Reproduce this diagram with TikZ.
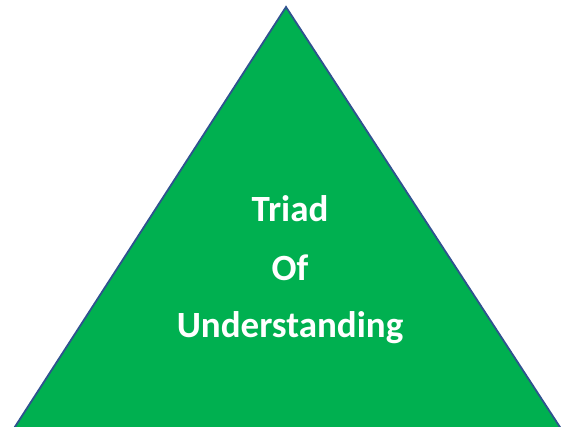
\documentclass[tikz,border=0pt]{standalone}
\usepackage{fontspec}
\setmainfont{Carlito}
\usepackage{tikz}
\definecolor{triadgreen}{HTML}{00B050}
\definecolor{triadline}{HTML}{2F528F}
\tikzset{
  triadtext/.style={text=white, font=\fontsize{37}{44}\selectfont\bfseries, anchor=base, inner sep=0pt}
}

\begin{document}
\begin{tikzpicture}[x=1pt,y=-1pt]
    \useasboundingbox (0,0) rectangle (563,427);  %Rahmen
    \clip (0,0) rectangle (563,427);
    \coordinate (top) at (286,7);
    \coordinate (left) at (-11,467);
    \coordinate (right) at (586,467);
    \filldraw[fill=triadgreen, draw=triadline, line width=1.8pt, line join=miter] (top) -- (right) -- (left) -- cycle;  %Dreieck
    \node[triadtext] (triad) at (290,222) {Triad};
    \node[triadtext] (of) at (290,281) {Of};
    \node[triadtext] (understanding) at (290,338) {Understanding};
\end{tikzpicture}
\end{document}
